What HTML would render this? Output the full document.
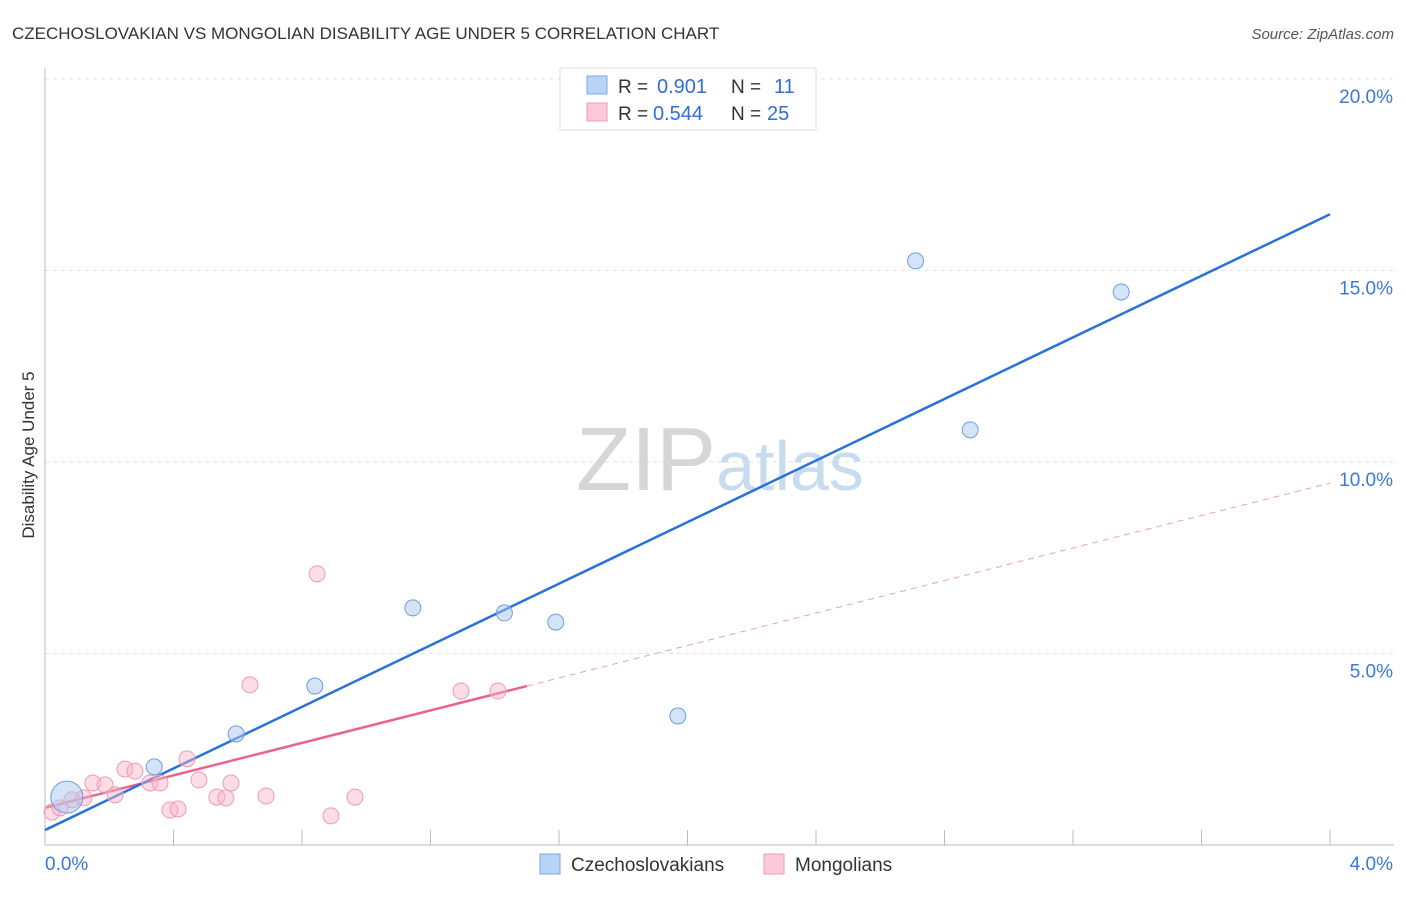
<!DOCTYPE html>
<html><head><meta charset="utf-8"><style>
body{margin:0;background:#fff;font-family:"Liberation Sans",sans-serif;}
svg text{font-family:"Liberation Sans",sans-serif;}
</style></head><body>
<svg id="chart" width="1406" height="892" xmlns="http://www.w3.org/2000/svg">
<text x="12" y="39" font-size="17" fill="#333">CZECHOSLOVAKIAN VS MONGOLIAN DISABILITY AGE UNDER 5 CORRELATION CHART</text>
<text x="1394" y="39" font-size="15" fill="#555" text-anchor="end" font-style="italic">Source: ZipAtlas.com</text>
<text x="34" y="455" font-size="17" fill="#333" text-anchor="middle" transform="rotate(-90 34 455)">Disability Age Under 5</text>
<g id="grid"></g>
<g id="ticks"></g>
<text x="720" y="490" font-size="90" fill="#ddd" text-anchor="middle" font-family="Liberation Serif"><tspan fill="#d6d6d6">ZIP</tspan><tspan fill="#c8dcf0" font-family="Liberation Sans" font-size="70">atlas</tspan></text>
<g id="lines"></g>
<g id="points"></g>
<g>
<rect x="560" y="68" width="256" height="62" fill="#fff" stroke="#ddd"/>
<rect x="587" y="76" width="20" height="18" fill="#b7d3f5" stroke="#7aa8e0"/>
<text x="618" y="93" font-size="19" fill="#333">R =</text>
<text x="657" y="93" font-size="20" fill="#2f6fd6">0.901</text>
<text x="731" y="93" font-size="19" fill="#333">N =</text>
<text x="774" y="93" font-size="20" fill="#2f6fd6">11</text>
<rect x="587" y="103" width="20" height="18" fill="#fbc9d8" stroke="#f09ab4"/>
<text x="618" y="120" font-size="19" fill="#333">R =</text>
<text x="653" y="120" font-size="20" fill="#2f6fd6">0.544</text>
<text x="731" y="120" font-size="19" fill="#333">N =</text>
<text x="767" y="120" font-size="20" fill="#2f6fd6">25</text>
</g>
<g>
<rect x="540" y="854" width="20" height="20" fill="#b7d3f5" stroke="#7aa8e0"/>
<text x="571" y="871" font-size="19" fill="#333">Czechoslovakians</text>
<rect x="764" y="854" width="20" height="20" fill="#fbc9d8" stroke="#f09ab4"/>
<text x="795" y="871" font-size="19" fill="#333">Mongolians</text>
</g>
</svg>
<script>
const blueX=[0.068,0.34,0.595,0.84,1.145,1.43,1.59,1.97,2.71,2.88,3.35];
const blueY=[1.25,2.04,2.9,4.15,6.19,6.06,5.82,3.37,15.25,10.84,14.44];
const pinkX=[0.022,0.047,0.084,0.121,0.149,0.187,0.218,0.249,0.28,0.327,0.358,0.389,0.414,0.442,0.479,0.535,0.563,0.579,0.638,0.688,0.847,0.89,0.965,1.295,1.41];
const pinkY=[0.86,0.97,1.18,1.23,1.62,1.57,1.31,1.98,1.93,1.62,1.62,0.91,0.94,2.25,1.70,1.25,1.23,1.62,4.18,1.28,7.08,0.76,1.25,4.02,4.02];
const yTicks=[5,10,15,20];
const yTickLabels=["5.0%","10.0%","15.0%","20.0%"];
const blueLine=[0.39,16.47];
const pinkLine=[0.97,9.45];
const pinkSolidEnd=1.5;
const NS="http://www.w3.org/2000/svg";
const X=v=>45+v*321.25, Y=v=>845-v*38.3;
function mk(t,a,p){const e=document.createElementNS(NS,t);for(const k in a)e.setAttribute(k,a[k]);p.appendChild(e);return e;}
const grid=document.getElementById('grid'),ticks=document.getElementById('ticks');
yTicks.forEach((t,i)=>{
 const l=mk('line',{x1:45,x2:1394,y1:Y(t),y2:Y(t),stroke:'#e2e2e2','stroke-dasharray':'4,4'},grid);
 
 
 const tx=mk('text',{x:1393,y:Y(t)+24,'font-size':19,fill:'#3b78d8','text-anchor':'end'},ticks);
 tx.textContent=yTickLabels[i];
 
 
});
const topGrid=mk('line',{x1:45,x2:1394,y1:79,y2:79,stroke:'#e2e2e2','stroke-dasharray':'4,4'},grid);
mk('line',{x1:45,x2:45,y1:68,y2:845,stroke:'#bbb'},grid);
mk('line',{x1:45,x2:1394,y1:845,y2:845,stroke:'#bbb'},grid);
for(let i=1;i<=10;i++){const t=mk('line',{x1:X(i*0.4),x2:X(i*0.4),y1:830,y2:845,stroke:'#bbb'},ticks);
 
 }
const xl0=mk('text',{x:45,y:870,'font-size':19,fill:'#3b78d8'},ticks);xl0.textContent='0.0%';


const xl1=mk('text',{x:1393,y:870,'font-size':19,fill:'#3b78d8','text-anchor':'end'},ticks);xl1.textContent='4.0%';


const pts=document.getElementById('points');
pinkX.forEach((x,i)=>{const c=mk('circle',{cx:X(x),cy:Y(pinkY[i]),r:8,fill:'rgba(248,180,200,0.45)',stroke:'#f09ab4','stroke-width':1},pts);
 
 });
blueX.forEach((x,i)=>{const c=mk('circle',{cx:X(x),cy:Y(blueY[i]),r:i==0?16:8,fill:'rgba(170,200,240,0.5)',stroke:'#6a9ee0','stroke-width':1},pts);
 
 });
const ln=document.getElementById('lines');
const pl=v=>pinkLine[0]+(pinkLine[1]-pinkLine[0])*v/4;
const dl=mk('line',{x1:X(pinkSolidEnd),y1:Y(pl(pinkSolidEnd)),x2:X(4),y2:Y(pinkLine[1]),stroke:'#e8a0b8','stroke-dasharray':'6,5','stroke-width':1},ln);


const pln=mk('line',{x1:X(0),y1:Y(pinkLine[0]),x2:X(pinkSolidEnd),y2:Y(pl(pinkSolidEnd)),stroke:'#e8648e','stroke-width':2.5},ln);


const bln=mk('line',{x1:X(0),y1:Y(blueLine[0]),x2:X(4),y2:Y(blueLine[1]),stroke:'#2a72d8','stroke-width':2.5},ln);


</script>
</body></html>
